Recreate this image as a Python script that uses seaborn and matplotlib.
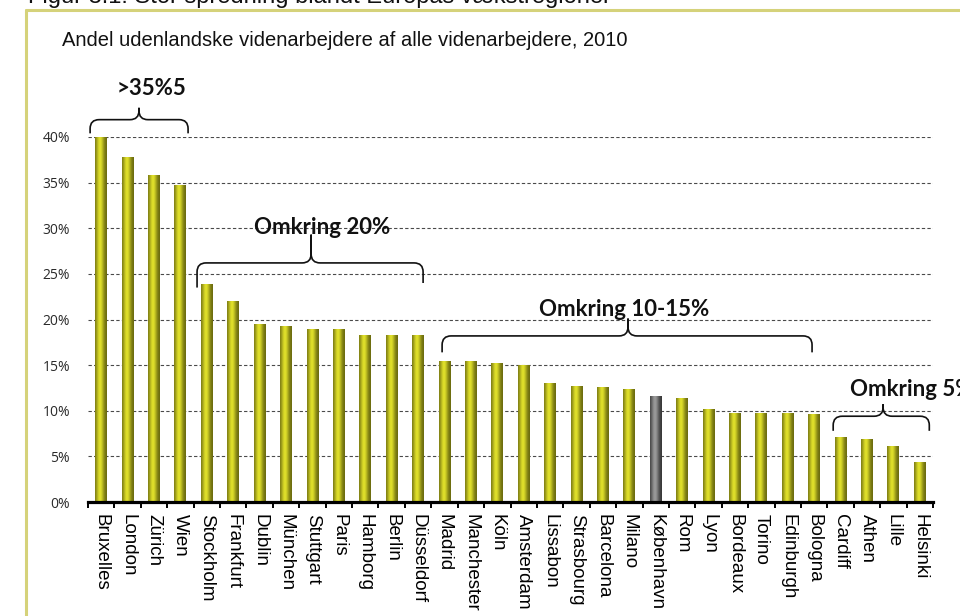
import numpy as np
import pandas as pd
import matplotlib
matplotlib.use("Agg")
import matplotlib.pyplot as plt
from matplotlib.path import Path
from matplotlib.patches import PathPatch
from matplotlib.lines import Line2D
import seaborn as sns

# Share of foreign knowledge workers among all knowledge workers, 2010 (%)
cities = [
    "Bruxelles", "London", "Zürich", "Wien", "Stockholm", "Frankfurt", "Dublin",
    "München", "Stuttgart", "Paris", "Hamborg", "Berlin", "Düsseldorf", "Madrid",
    "Manchester", "Köln", "Amsterdam", "Lissabon", "Strasbourg", "Barcelona",
    "Milano", "København", "Rom", "Lyon", "Bordeaux", "Torino", "Edinburgh",
    "Bologna", "Cardiff", "Athen", "Lille", "Helsinki",
]
shares = [
    40.0, 37.8, 35.8, 34.7, 23.8, 22.0, 19.4,
    19.2, 18.85, 18.85, 18.3, 18.3, 18.3, 15.45,
    15.35, 15.2, 15.0, 13.0, 12.7, 12.5,
    12.3, 11.6, 11.3, 10.1, 9.75, 9.75, 9.75,
    9.6, 7.1, 6.8, 6.1, 4.3,
]
highlight_city = "København"
y_ticks = [0, 5, 10, 15, 20, 25, 30, 35, 40]

title = "Andel udenlandske videnarbejdere af alle videnarbejdere, 2010"
caption = "Figur 3.1: Stor spredning blandt Europas vækstregioner"

group_labels = [">35%5", "Omkring 20%", "Omkring 10-15%", "Omkring 5%"]

df = pd.DataFrame({"city": cities, "share": shares})

sns.set_theme(style="white")
plt.rcParams["font.family"] = ["Liberation Sans", "DejaVu Sans"]

fig = plt.figure(figsize=(9.6, 6.16), dpi=100)
W, H = 960, 616
ax = fig.add_axes([88 / W, 1 - 502 / H, (933 - 88) / W, (502 - 137) / H])

palette = {c: ("#6a6a6a" if c == highlight_city else "#c8c820") for c in cities}
sns.barplot(data=df, x="city", y="share", hue="city", palette=palette,
            legend=False, width=0.45, ax=ax, zorder=2)

# Cylinder-style shading for each bar
t = np.linspace(0, 1, 64)
f = np.exp(-((t - 0.42) / 0.33) ** 2)
def shade(center, edge):
    c = np.array(matplotlib.colors.to_rgb(center))
    e = np.array(matplotlib.colors.to_rgb(edge))
    return (e[None, :] + (c - e)[None, :] * f[:, None])[None, :, :]

yellow = shade("#e0e02a", "#66660e")
grey = shade("#9a9a9a", "#333333")
for patch, city in zip(ax.patches, cities):
    x0, y0 = patch.get_x(), patch.get_y()
    w, h = patch.get_width(), patch.get_height()
    img = grey if city == highlight_city else yellow
    ax.imshow(img, extent=[x0, x0 + w, y0, y0 + h], aspect="auto",
              interpolation="bilinear", zorder=2.1)
    patch.set_facecolor("none")
    patch.set_edgecolor("none")

ax.set_xlim(-0.5, len(cities) - 0.5)
ax.set_ylim(0, 40)
ax.set_xlabel("")
ax.set_ylabel("")

# Axes styling
for s in ("left", "top", "right"):
    ax.spines[s].set_visible(False)
ax.spines["bottom"].set_linewidth(2.3)
ax.spines["bottom"].set_color("black")
ax.spines["bottom"].set_zorder(3)

ax.set_yticks(y_ticks)
ax.set_yticklabels([f"{v}%" for v in y_ticks], fontsize=10, color="#2a2a2a",
                   family=["Open Sans", "DejaVu Sans"])
ax.tick_params(axis="y", length=0, pad=13)
ax.yaxis.grid(True, linestyle=(0, (3, 2)), color="#4a4a4a", linewidth=0.8)
ax.xaxis.grid(False)
ax.set_axisbelow(True)

ax.set_xticks(range(len(cities)))
ax.set_xticklabels(cities, rotation=270, fontsize=13.5, color="black",
                   va="top", ha="center")
ax.set_xticks(np.arange(-0.5, len(cities), 1.0), minor=True)
ax.tick_params(axis="x", which="major", length=0, pad=9)
ax.tick_params(axis="x", which="minor", length=4, width=1.4, color="black",
               direction="out", bottom=True)

# Curly braces over the groups
def brace(ax, x0, x1, xm, y_line, y_tip_l, y_tip_r, y_peak):
    to_disp = ax.transData.transform
    to_data = ax.transData.inverted().transform
    rp = 9.0  # corner radius in pixels
    p = lambda x, y: to_disp((x, y))
    a = p(x0, y_tip_l); b = p(x1, y_tip_r); m = p(xm, y_peak)
    yl = p(x0, y_line)[1]
    pts = [
        (a[0], a[1]), (a[0], yl - rp), (a[0], yl), (a[0] + rp, yl),
        (m[0] - rp, yl), (m[0], yl), (m[0], yl + rp), (m[0], m[1]),
        (m[0], yl + rp), (m[0], yl), (m[0] + rp, yl),
        (b[0] - rp, yl), (b[0], yl), (b[0], yl - rp), (b[0], b[1]),
    ]
    codes = [Path.MOVETO, Path.LINETO, Path.CURVE3, Path.CURVE3,
             Path.LINETO, Path.CURVE3, Path.CURVE3, Path.LINETO,
             Path.LINETO, Path.CURVE3, Path.CURVE3,
             Path.LINETO, Path.CURVE3, Path.CURVE3, Path.LINETO]
    verts = to_data(np.array(pts))
    ax.add_patch(PathPatch(Path(verts, codes), facecolor="none",
                           edgecolor="#111111", lw=1.2, clip_on=False, zorder=4))

brace_specs = [
    (-0.42, 3.29, 1.43, 41.9, 40.4, 40.4, 43.2),
    (3.63, 12.19, 7.95, 26.2, 23.5, 24.0, 29.3),
    (12.91, 26.92, 19.95, 18.2, 16.4, 16.4, 20.1),
    (27.72, 31.36, 29.61, 9.4, 7.8, 7.8, 10.7),
]
label_pos = [(1.92, 45.3, "center"), (8.36, 30.1, "center"),
             (19.80, 21.1, "center"), (28.36, 12.3, "left")]

for spec, (tx, ty, ha), lab in zip(brace_specs, label_pos, group_labels):
    brace(ax, *spec)
    ax.text(tx, ty, lab, ha=ha, va="center", fontsize=16, fontweight="bold",
            family=["Lato", "DejaVu Sans"], color="#111111", clip_on=False, zorder=5)

# Chart title and figure caption
fig.text(62 / W, 1 - 40 / H, title, ha="left", va="center", fontsize=14.5,
         color="#111111")
fig.text(28 / W, 1 - 3 / H, caption, ha="left", va="baseline", fontsize=17,
         color="#111111")

# Frame around the chart
frame_c = "#d5d27a"
fig.add_artist(Line2D([26 / W, 1.0], [1 - 10 / H, 1 - 10 / H], color=frame_c,
                      lw=2.2, transform=fig.transFigure))
fig.add_artist(Line2D([26 / W, 26 / W], [0.0, 1 - 10 / H], color=frame_c,
                      lw=2.2, transform=fig.transFigure))

fig.savefig("out.png", dpi=100, facecolor="white")
